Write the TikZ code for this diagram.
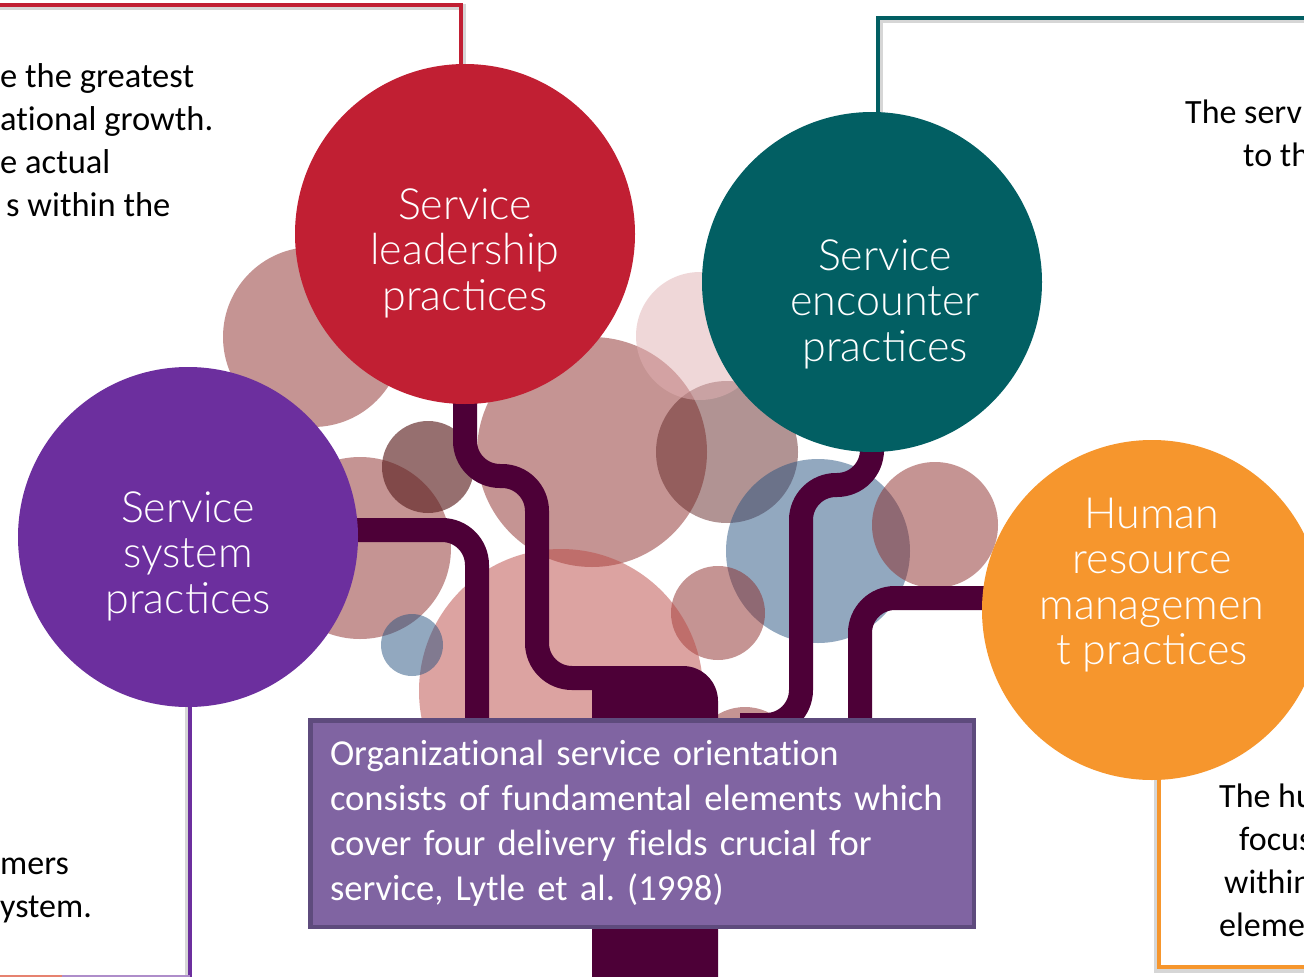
\documentclass[tikz,border=0pt]{standalone}
\usepackage{fontspec}
\setmainfont{Carlito}[Ligatures=NoCommon]
\newfontfamily\circfont{Lato Light}
\usetikzlibrary{calc}

\definecolor{leadred}{RGB}{193,31,51}
\definecolor{encteal}{RGB}{2,95,99}
\definecolor{syspurple}{RGB}{108,47,158}
\definecolor{hrorange}{RGB}{246,150,45}
\definecolor{branchc}{RGB}{77,0,55}
\definecolor{boxfill}{RGB}{128,100,162}
\definecolor{boxline}{RGB}{94,75,125}
\definecolor{coral}{RGB}{230,130,112}
% bubble base colours, laid down at half opacity
\definecolor{mauve}{RGB}{141,43,41}
\definecolor{rosy}{RGB}{187,73,69}
\definecolor{blush}{RGB}{225,177,179}
\definecolor{umber}{RGB}{94,34,34}
\definecolor{ash}{RGB}{100,41,40}
\definecolor{steel}{RGB}{39,83,129}

\newcommand\lnstrut[1]{\rule{0pt}{#1}}

\pgfdeclarelayer{back}
\pgfsetlayers{back,main}

\begin{document}
\frenchspacing
\begin{tikzpicture}[x=1pt,y=-1pt,
  disc/.style={circle, inner sep=0pt, minimum size=340pt},
  bubble/.style={fill opacity=0.5},
  branch/.style={draw=branchc, line width=24pt, rounded corners=35pt},
  frameline/.style={line width=4.5pt},
  frameshade/.style={draw=black, draw opacity=0.16, line width=6pt},
  circtext/.style={anchor=north, inner sep=0pt, align=center, text=white,
    font=\circfont\fontsize{43}{45.5}\selectfont},
  sidetext/.style={anchor=north west, inner sep=0pt, align=left,
    font=\fontsize{34}{43}\selectfont},
  corebox/.style={draw=boxline, line width=4.5pt, fill=boxfill, text=white,
    minimum width=663.5pt, minimum height=206.5pt, text width=624pt,
    align=left, inner sep=0pt, font=\fontsize{36.6}{45}\selectfont}]

\useasboundingbox (0,0) rectangle (1304,977);

% the four practice discs
\node[disc, fill=leadred]   (lead) at (465,234) {};
\node[disc, fill=encteal]   (enc)  at (872,282) {};
\node[disc, fill=syspurple] (sys)  at (188,537) {};
\node[disc, fill=hrorange]  (hr)   at (1152,610) {};

\node[circtext] (leadtxt) at (465,186) {\lnstrut{33pt}Service\\leadership\\practices};
\node[circtext] (enctxt)  at (885,237) {\lnstrut{33pt}Service\\encounter\\practices};
\node[circtext] (systxt)  at (188,489) {\lnstrut{33pt}Service\\system\\practices};
\node[circtext] (hrtxt)   at (1152,495) {\lnstrut{33pt}Human\\resource\\managemen\\t practices};

\begin{pgfonlayer}{back}
  \clip (0,0) rectangle (1304,977);
  \fill[white] (0,0) rectangle (1304,977);

  % translucent bubbles
  \fill[bubble, mauve] (313,337) circle (90);
  \fill[bubble, mauve] (360,548) circle (91);
  \fill[bubble, mauve] (592,452) circle (115);
  \fill[bubble, ash]   (727,452) circle (71);
  \fill[bubble, blush] (700,336) circle (64);
  \fill[umber, fill opacity=0.65] (428,467) circle (46);
  \fill[bubble, steel] (818,551) circle (92);
  \fill[bubble, mauve] (718,613) circle (47);
  \fill[bubble, mauve] (935,525) circle (63);
  \fill[bubble, rosy]  (561,691) circle (142);
  \fill[bubble, steel] (412,645) circle (31);
  \fill[bubble, mauve] (745,760) circle (53);

  % callout frames
  \draw[frameshade] (-10,7) -- (463,7) -- (463,120);
  \draw[frameline, leadred] (-10,5) -- (461,5) -- (461,120);
  \draw[frameshade] (1310,20) -- (880,20) -- (880,150);
  \draw[frameline, encteal] (1310,18) -- (878,18) -- (878,150);
  \draw[frameshade] (187.5,650) -- (187.5,990);
  \draw[frameline, syspurple] (190,650) -- (190,990);
  \draw[line width=2pt, syspurple!55] (62,976) -- (190,976);
  \draw[line width=2pt, coral] (0,976) -- (62,976);
  \draw[frameshade] (1156.5,700) -- (1156.5,969.5) -- (1310,969.5);
  \draw[frameline, hrorange] (1159,700) -- (1159,967) -- (1310,967);

  % branches feeding the trunk
  \draw[branch] (lead.center) -- (465,476) -- (537,476) -- (537,678) -- (600,678);
  \draw[branch] (sys.center) -- (300,530) -- (477,530) -- (477,730);
  \draw[branch] (enc.center) -- (872,485) -- (801,485) -- (801,725) -- (740,725);
  \draw[branch] (hr.center) -- (1100,598) -- (860,598) -- (860,730);

  % trunk
  \fill[branchc] (592,990) -- (592,666) -- (683,666)
    .. controls (702.3,666) and (718,681.7) .. (718,701) -- (718,990) -- cycle;
\end{pgfonlayer}

% central statement
\node[corebox] (core) at (642,823.5) {Organizational service orientation\\consists of fundamental elements which\\cover four delivery fields crucial for\\service, Lytle et al. (1998)};

% callout texts
\node[sidetext, font=\fontsize{34.5}{43}\selectfont] (leadnote) at (0,59)
  {\lnstrut{28pt}e the greatest\\ational growth.\\e actual\\\hspace*{6pt}s within the};
\node[sidetext] (encnote) at (1185,95) {\lnstrut{28pt}The serv\\\hspace*{58pt}to th};
\node[sidetext] (sysnote) at (0,846) {\lnstrut{28pt}mers\\ystem.};
\node[sidetext] (hrnote) at (1219,779) {\lnstrut{28pt}The hu\\\hspace*{20pt}focus\\\hspace*{5pt}within\\eleme};

\end{tikzpicture}
\end{document}
